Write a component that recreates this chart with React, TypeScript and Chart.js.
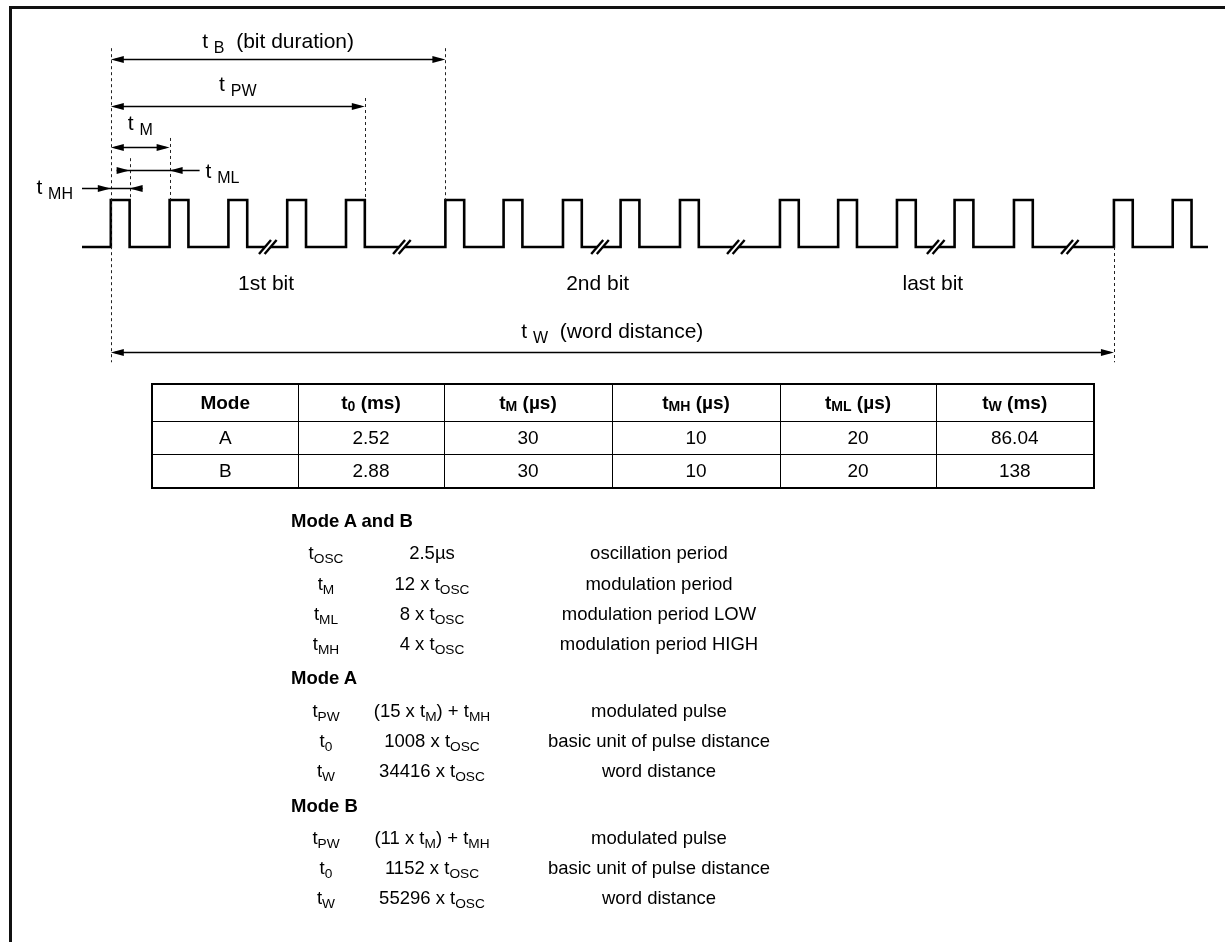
import React, { useEffect, useRef } from "react";
import { Chart, registerables } from "chart.js";

Chart.register(...registerables);

const FONT = '"Liberation Sans", Arial, Helvetica, sans-serif';

// ---- waveform data (time in units of the modulation period tM, 0 = first rising edge)
const pulseStarts = [0, 1, 2, 3, 4, 5.69, 6.68, 7.69, 8.67, 9.68, 11.38, 12.37, 13.37, 14.35, 15.36, 17.06, 18.06];
const pulseWidth = 0.32; // tMH relative to tM
const timeMin = -0.49;
const timeMax = 18.66;
const breakMarks = [2.67, 4.95, 8.32, 10.63, 14.03, 16.31];

// ---- dimension annotations
const dimSubs = ["B", "PW", "M", "ML", "MH", "W"];
const dimSuffix = ["(bit duration)", "", "", "", "", "(word distance)"];
const dimFrom = [0, 0, 0, 0.32, 0, 0];
const dimTo = [5.69, 4.32, 1, 1, 0.32, 17.06];

const bitLabels = ["1st bit", "2nd bit", "last bit"];
const bitCenters = [2.64, 8.28, 13.98];

// ---- table
const tableHeader = ["Mode", "t_{0} (ms)", "t_{M} (µs)", "t_{MH} (µs)", "t_{ML} (µs)", "t_{W} (ms)"];
const modes = ["A", "B"];
const t0Values = ["2.52", "2.88"];
const tMValues = ["30", "30"];
const tMHValues = ["10", "10"];
const tMLValues = ["20", "20"];
const tWValues = ["86.04", "138"];

// ---- notes
const sectionTitles = ["Mode A and B", "Mode A", "Mode B"];
const commonSymbols = ["t_{OSC}", "t_{M}", "t_{ML}", "t_{MH}"];
const commonFormulas = ["2.5µs", "12 x t_{OSC}", "8 x t_{OSC}", "4 x t_{OSC}"];
const commonDescriptions = ["oscillation period", "modulation period", "modulation period LOW", "modulation period HIGH"];
const modeSymbols = ["t_{PW}", "t_{0}", "t_{W}"];
const modeAFormulas = ["(15 x t_{M}) + t_{MH}", "1008 x t_{OSC}", "34416 x t_{OSC}"];
const modeBFormulas = ["(11 x t_{M}) + t_{MH}", "1152 x t_{OSC}", "55296 x t_{OSC}"];
const modeDescriptions = ["modulated pulse", "basic unit of pulse distance", "word distance"];

// ---- layout (pixels / signal levels), not data
const W = 1225;
const H = 942;
const dimLevels = [4.0, 3.0, 2.13, 1.64, 1.26, -2.23];
const dimInward = [false, false, false, true, true, false];
const dimLabelDy = [-12, -16, -18, 7, 5, -15];
const dashed: [number, number, number][] = [
  [0, 4.23, -2.45],
  [0.32, 1.89, 1],
  [1, 2.32, 1],
  [4.32, 3.17, 1],
  [5.69, 4.23, 1],
  [17.06, 0, -2.45],
];
const colWidths = [146, 146, 168, 168, 156, 158];
const rowHeights = [37, 33, 34];
const sectionY = [521, 678, 806];
const commonRowY = [553, 584, 614, 644];
const modeARowY = [711, 741, 771];
const modeBRowY = [838, 868, 898];
const colSymbolX = 326;
const colFormulaX = 432;
const colDescX = 659;
const sectionX = 291;

function buildWave() {
  const pts: { x: number; y: number }[] = [{ x: timeMin, y: 0 }];
  for (const s of pulseStarts) {
    pts.push({ x: s, y: 0 }, { x: s, y: 1 }, { x: s + pulseWidth, y: 1 }, { x: s + pulseWidth, y: 0 });
  }
  pts.push({ x: timeMax, y: 0 });
  return pts;
}

function arrowHead(ctx: CanvasRenderingContext2D, tipX: number, y: number, dir: number) {
  const len = 13;
  const half = 3.6;
  ctx.beginPath();
  ctx.moveTo(tipX, y);
  ctx.lineTo(tipX - dir * len, y - half);
  ctx.lineTo(tipX - dir * len, y + half);
  ctx.closePath();
  ctx.fill();
}

function drawLabel(
  ctx: CanvasRenderingContext2D,
  sub: string,
  suffix: string,
  xPos: number,
  baseline: number,
  align: "center" | "left" | "right"
) {
  const big = `21px ${FONT}`;
  const small = `16px ${FONT}`;
  ctx.font = big;
  const wT = ctx.measureText("t ").width;
  ctx.font = small;
  const wS = ctx.measureText(sub).width;
  ctx.font = big;
  const suf = suffix ? "  " + suffix : "";
  const wR = suf ? ctx.measureText(suf).width : 0;
  const total = wT + wS + wR;
  const left = align === "center" ? xPos - total / 2 : align === "left" ? xPos : xPos - total;
  ctx.textAlign = "left";
  ctx.textBaseline = "alphabetic";
  ctx.font = big;
  ctx.fillText("t", left, baseline);
  ctx.font = small;
  ctx.fillText(sub, left + wT, baseline + 5);
  if (suf) {
    ctx.font = big;
    ctx.fillText(suf, left + wT + wS, baseline);
  }
}

const diagramPlugin = {
  id: "timingDiagram",
  afterDatasetsDraw(chart: any) {
    const { ctx } = chart;
    const xs = chart.scales.x;
    const ys = chart.scales.y;
    const X = (v: number) => xs.getPixelForValue(v);
    const Y = (v: number) => ys.getPixelForValue(v);
    ctx.save();

    // break marks
    for (const b of breakMarks) {
      const cx = X(b);
      const cy = Y(0);
      const d = 2.8;
      ctx.fillStyle = "#fff";
      ctx.beginPath();
      ctx.moveTo(cx - d - 6, cy + 7);
      ctx.lineTo(cx - d + 6, cy - 7);
      ctx.lineTo(cx + d + 6, cy - 7);
      ctx.lineTo(cx + d - 6, cy + 7);
      ctx.closePath();
      ctx.fill();
      ctx.strokeStyle = "#000";
      ctx.lineWidth = 2.4;
      ctx.setLineDash([]);
      for (const o of [-d, d]) {
        ctx.beginPath();
        ctx.moveTo(cx + o - 6, cy + 7);
        ctx.lineTo(cx + o + 6, cy - 7);
        ctx.stroke();
      }
    }

    // dashed reference lines
    ctx.strokeStyle = "#222";
    ctx.lineWidth = 1;
    ctx.setLineDash([3, 3]);
    for (const [t, top, bot] of dashed) {
      const px = Math.round(X(t)) + 0.5;
      ctx.beginPath();
      ctx.moveTo(px, Y(top));
      ctx.lineTo(px, Y(bot));
      ctx.stroke();
    }
    ctx.setLineDash([]);

    // dimension arrows + labels
    ctx.fillStyle = "#000";
    ctx.strokeStyle = "#000";
    ctx.lineWidth = 1.4;
    for (let i = 0; i < dimSubs.length; i++) {
      const x1 = X(dimFrom[i]);
      const x2 = X(dimTo[i]);
      const y = Math.round(Y(dimLevels[i])) + 0.5;
      if (!dimInward[i]) {
        ctx.beginPath();
        ctx.moveTo(x1 + 4, y);
        ctx.lineTo(x2 - 4, y);
        ctx.stroke();
        arrowHead(ctx, x1, y, -1);
        arrowHead(ctx, x2, y, 1);
        drawLabel(ctx, dimSubs[i], dimSuffix[i], (x1 + x2) / 2, y + dimLabelDy[i], "center");
      } else {
        const isML = dimSubs[i] === "ML";
        const left = isML ? x1 - 13 : X(timeMin);
        const right = isML ? x2 + 30 : x2 + 13;
        ctx.beginPath();
        ctx.moveTo(left, y);
        ctx.lineTo(right, y);
        ctx.stroke();
        arrowHead(ctx, x1, y, 1);
        arrowHead(ctx, x2, y, -1);
        if (isML) drawLabel(ctx, dimSubs[i], "", right + 6, y + dimLabelDy[i], "left");
        else drawLabel(ctx, dimSubs[i], "", left - 9, y + dimLabelDy[i], "right");
      }
    }

    // bit labels
    ctx.font = `21px ${FONT}`;
    ctx.textAlign = "center";
    ctx.textBaseline = "alphabetic";
    for (let i = 0; i < bitLabels.length; i++) {
      ctx.fillText(bitLabels[i], X(bitCenters[i]), Y(0) + 43);
    }
    ctx.restore();
  },
};

function Rich({ text, subStyle }: { text: string; subStyle?: React.CSSProperties }) {
  const parts = text.split(/_\{([^}]*)\}/);
  return (
    <>
      {parts.map((p, i) =>
        i % 2 === 1 ? (
          <span key={i} style={{ fontSize: "0.74em", position: "relative", top: "0.28em", ...subStyle }}>
            {p}
          </span>
        ) : (
          <span key={i}>{p}</span>
        )
      )}
    </>
  );
}

function Centered({ x, y, children, bold }: { x: number; y: number; children: React.ReactNode; bold?: boolean }) {
  return (
    <div
      style={{
        position: "absolute",
        left: x,
        top: y,
        transform: "translate(-50%, -50%)",
        whiteSpace: "nowrap",
        fontWeight: bold ? "bold" : "normal",
        lineHeight: 1,
      }}
    >
      {children}
    </div>
  );
}

export default function App() {
  const canvasRef = useRef<HTMLCanvasElement | null>(null);

  useEffect(() => {
    const canvas = canvasRef.current;
    if (!canvas) return;
    const chart = new Chart(canvas, {
      type: "line",
      data: {
        datasets: [
          {
            data: buildWave(),
            borderColor: "#000",
            borderWidth: 2.6,
            pointRadius: 0,
            tension: 0,
            fill: false,
            clip: false as any,
            borderJoinStyle: "miter",
          } as any,
        ],
      },
      options: {
        animation: false,
        responsive: false,
        devicePixelRatio: 1,
        events: [],
        layout: { padding: { left: 82, right: W - 1208, top: 200, bottom: H - 247 } },
        scales: {
          x: { type: "linear", min: timeMin, max: timeMax, display: false },
          y: { type: "linear", min: 0, max: 1, display: false },
        },
        plugins: { legend: { display: false }, tooltip: { enabled: false }, title: { display: false } },
      },
      plugins: [diagramPlugin],
    });
    return () => chart.destroy();
  }, []);

  const rows = modes.map((m, i) => [m, t0Values[i], tMValues[i], tMHValues[i], tMLValues[i], tWValues[i]]);

  const notesRow = (sym: string, formula: string, desc: string, y: number, key: string) => (
    <React.Fragment key={key}>
      <Centered x={colSymbolX} y={y}>
        <Rich text={sym} />
      </Centered>
      <Centered x={colFormulaX} y={y}>
        <Rich text={formula} />
      </Centered>
      <Centered x={colDescX} y={y}>
        {desc}
      </Centered>
    </React.Fragment>
  );

  return (
    <div
      style={{
        position: "absolute",
        left: 0,
        top: 0,
        width: W,
        height: H,
        overflow: "hidden",
        background: "#fff",
        fontFamily: FONT,
        color: "#000",
      }}
    >
      <div
        style={{
          position: "absolute",
          left: 9,
          top: 6,
          width: W,
          height: H,
          borderLeft: "3px solid #111",
          borderTop: "3px solid #111",
        }}
      />
      <canvas ref={canvasRef} width={W} height={H} style={{ position: "absolute", left: 0, top: 0, width: W, height: H }} />

      <table
        style={{
          position: "absolute",
          left: 151,
          top: 383,
          borderCollapse: "collapse",
          tableLayout: "fixed",
          width: colWidths.reduce((a, b) => a + b, 0),
          border: "2px solid #000",
          fontSize: 19,
          textAlign: "center",
        }}
      >
        <colgroup>
          {colWidths.map((w, i) => (
            <col key={i} style={{ width: w }} />
          ))}
        </colgroup>
        <tbody>
          <tr style={{ height: rowHeights[0] }}>
            {tableHeader.map((h, i) => (
              <td
                key={i}
                style={{
                  fontWeight: "bold",
                  padding: 0,
                  borderLeft: i ? "1px solid #000" : undefined,
                  borderBottom: "1px solid #000",
                }}
              >
                <Rich text={h} subStyle={{ top: "0.18em" }} />
              </td>
            ))}
          </tr>
          {rows.map((r, ri) => (
            <tr key={ri} style={{ height: rowHeights[ri + 1] }}>
              {r.map((c, ci) => (
                <td
                  key={ci}
                  style={{
                    padding: 0,
                    borderLeft: ci ? "1px solid #000" : undefined,
                    borderBottom: ri === 0 ? "1px solid #000" : undefined,
                  }}
                >
                  {c}
                </td>
              ))}
            </tr>
          ))}
        </tbody>
      </table>

      <div style={{ position: "absolute", left: 0, top: 0, fontSize: 18.5 }}>
        {sectionTitles.map((s, i) => (
          <div
            key={s}
            style={{
              position: "absolute",
              left: sectionX,
              top: sectionY[i],
              transform: "translateY(-50%)",
              whiteSpace: "nowrap",
              fontWeight: "bold",
              lineHeight: 1,
            }}
          >
            {s}
          </div>
        ))}
        {commonSymbols.map((s, i) => notesRow(s, commonFormulas[i], commonDescriptions[i], commonRowY[i], "c" + i))}
        {modeSymbols.map((s, i) => notesRow(s, modeAFormulas[i], modeDescriptions[i], modeARowY[i], "a" + i))}
        {modeSymbols.map((s, i) => notesRow(s, modeBFormulas[i], modeDescriptions[i], modeBRowY[i], "b" + i))}
      </div>
    </div>
  );
}
